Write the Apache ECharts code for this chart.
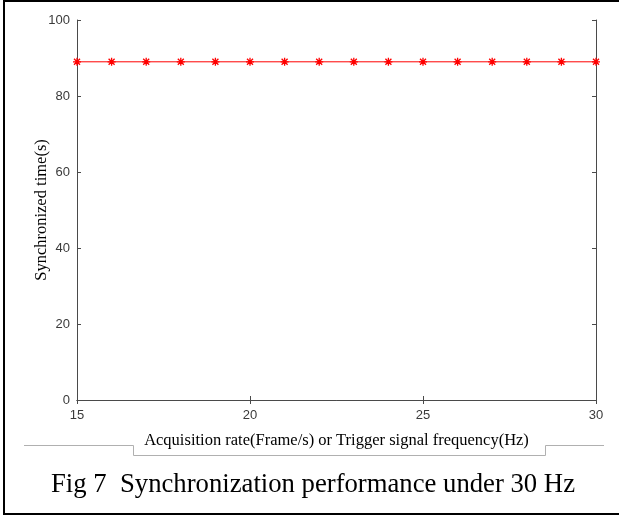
<!DOCTYPE html>
<html>
<head>
<meta charset="utf-8">
<script src="https://cdn.jsdelivr.net/npm/echarts@6/dist/echarts.min.js"></script>
<style>
  html, body { margin: 0; padding: 0; background: #fff; }
  #main { width: 619px; height: 517px; }
</style>
</head>
<body>
<div id="main"></div>
<script>
// acquisition rate (Hz) on x, synchronized time (s) on y
var rates = [15, 16, 17, 18, 19, 20, 21, 22, 23, 24, 25, 26, 27, 28, 29, 30];
var syncTimes = [89, 89, 89, 89, 89, 89, 89, 89, 89, 89, 89, 89, 89, 89, 89, 89];

var xTicks = [15, 20, 25, 30];
var yTicks = [0, 20, 40, 60, 80, 100];

var xTitle = 'Acquisition rate(Frame/s) or Trigger signal frequency(Hz)';
var yTitle = 'Synchronized time(s)';
var caption = 'Fig 7  Synchronization performance under 30 Hz';

var points = rates.map(function (r, i) { return [r, syncTimes[i]]; });

var axisGray = '#4a4a4a';
var labelStyle = { fontFamily: 'Liberation Sans', fontSize: 13, color: '#3a3a3a' };

// matlab style asterisk
var star = 'path://M0,-4L0,4M-4,0L4,0M-3,-3L3,3M-3,3L3,-3';

var myChart = echarts.init(document.getElementById('main'));

var option = {
    animation: false,
    backgroundColor: '#fff',
    grid: { left: 77, top: 20, right: 23, bottom: 117 },
    xAxis: [{
        type: 'value',
        min: xTicks[0],
        max: xTicks[xTicks.length - 1],
        interval: 5,
        axisLine: { lineStyle: { color: axisGray, width: 1 } },
        axisTick: { inside: true, length: 4, lineStyle: { color: axisGray } },
        axisLabel: Object.assign({ margin: 9 }, labelStyle),
        splitLine: { show: false },
        name: xTitle,
        nameLocation: 'middle',
        nameGap: 32,
        nameTextStyle: { fontFamily: 'Liberation Serif', fontSize: 16.5, color: '#000' }
    }, {
        type: 'value',
        position: 'top',
        min: xTicks[0],
        max: xTicks[xTicks.length - 1],
        interval: 5,
        axisLine: { show: true, lineStyle: { color: axisGray, width: 1 } },
        axisTick: { inside: true, length: 4, lineStyle: { color: axisGray } },
        axisLabel: { show: false },
        splitLine: { show: false }
    }],
    yAxis: [{
        type: 'value',
        min: yTicks[0],
        max: yTicks[yTicks.length - 1],
        interval: 20,
        axisLine: { show: true, lineStyle: { color: axisGray, width: 1 } },
        axisTick: { show: true, inside: true, length: 4, lineStyle: { color: axisGray } },
        axisLabel: Object.assign({ margin: 7 }, labelStyle),
        splitLine: { show: false },
        name: yTitle,
        nameLocation: 'middle',
        nameGap: 27,
        nameMoveOverlap: false,
        nameTextStyle: { fontFamily: 'Liberation Serif', fontSize: 16.5, color: '#000' }
    }, {
        type: 'value',
        position: 'right',
        min: yTicks[0],
        max: yTicks[yTicks.length - 1],
        interval: 20,
        axisLine: { show: true, lineStyle: { color: axisGray, width: 1 } },
        axisTick: { show: true, inside: true, length: 4, lineStyle: { color: axisGray } },
        axisLabel: { show: false },
        splitLine: { show: false }
    }],
    series: [{
        type: 'line',
        data: points,
        symbol: star,
        symbolSize: 8,
        showAllSymbol: true,
        clip: false,
        lineStyle: { color: '#ff0000', width: 1 },
        itemStyle: { color: '#ff0000', borderColor: '#ff0000', borderWidth: 1.3 }
    }],
    graphic: [
        // frame of the figure: left, top, bottom
        { type: 'line', shape: { x1: 4, y1: 1, x2: 619, y2: 1 }, style: { stroke: '#000', lineWidth: 2 } },
        { type: 'line', shape: { x1: 4, y1: 0, x2: 4, y2: 515 }, style: { stroke: '#000', lineWidth: 2 } },
        { type: 'line', shape: { x1: 3, y1: 514, x2: 619, y2: 514 }, style: { stroke: '#000', lineWidth: 2 } },
        // box line around the x axis title
        {
            type: 'polyline',
            shape: { points: [[24, 445.5], [133.5, 445.5], [133.5, 455.5], [545.5, 455.5], [545.5, 445.5], [604, 445.5]] },
            style: { stroke: '#b0b0b0', lineWidth: 1, fill: null }
        },
        {
            type: 'text',
            x: 313,
            y: 485,
            style: {
                text: caption, fontFamily: 'Liberation Serif', fontSize: 26.7, fill: '#000',
                align: 'center', verticalAlign: 'middle'
            }
        }
    ]
};

myChart.setOption(option);
</script>
</body>
</html>
